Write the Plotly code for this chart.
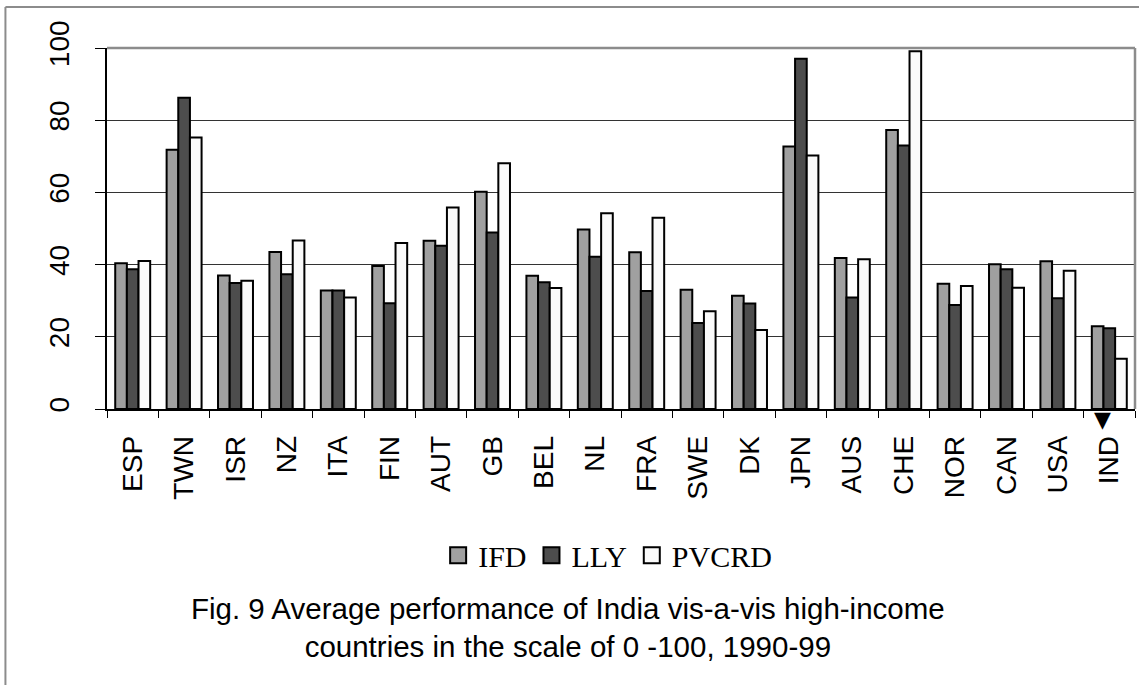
import plotly.graph_objects as go

countries = ["ESP", "TWN", "ISR", "NZ", "ITA", "FIN", "AUT", "GB", "BEL", "NL",
             "FRA", "SWE", "DK", "JPN", "AUS", "CHE", "NOR", "CAN", "USA", "IND"]
ifd = [40.4, 71.8, 37.0, 43.5, 32.8, 39.6, 46.6, 60.2, 36.9, 49.7,
       43.4, 33.0, 31.4, 72.7, 41.8, 77.3, 34.7, 40.1, 40.9, 22.9]
lly = [38.7, 86.2, 34.9, 37.3, 32.8, 29.3, 45.2, 48.9, 35.1, 42.2,
       32.7, 23.8, 29.2, 97.0, 30.9, 73.0, 28.8, 38.7, 30.7, 22.4]
pvcrd = [41.0, 75.2, 35.5, 46.7, 30.9, 46.0, 55.8, 68.1, 33.5, 54.2,
         53.0, 27.1, 21.9, 70.2, 41.5, 99.1, 34.1, 33.6, 38.3, 13.9]
series_names = ["IFD", "LLY", "PVCRD"]
series_colors = ["#a0a0a0", "#4d4d4d", "#fafafa"]
highlight = "IND"
title_lines = ["Fig. 9 Average performance of India vis-a-vis high-income",
               "countries in the scale of 0 -100, 1990-99"]

SANS = "Liberation Sans, Arial, sans-serif"
SERIF = "Liberation Serif, Times New Roman, serif"

fig = go.Figure()
for name, vals, col in zip(series_names, [ifd, lly, pvcrd], series_colors):
    fig.add_trace(go.Bar(x=countries, y=vals, name=name, showlegend=False,
                         marker=dict(color=col, line=dict(color="black", width=2))))
for name, col in zip(series_names, series_colors):
    # legend proxy (no visible point)
    fig.add_trace(go.Scatter(x=[countries[0]], y=[None], mode="markers", name=name,
                             marker=dict(symbol="square", size=16, color=col,
                                         line=dict(color="black", width=2))))

fig.update_layout(
    width=1139, height=685,
    margin=dict(l=107, r=4, t=48, b=276),
    paper_bgcolor="white", plot_bgcolor="white",
    barmode="group", bargap=0.32, bargroupgap=0,
    showlegend=True,
    legend=dict(orientation="h", x=0.487, xanchor="center", y=-0.405, yanchor="middle",
                font=dict(family=SERIF, size=30, color="black"),
                itemsizing="trace", bgcolor="rgba(0,0,0,0)"),
    xaxis=dict(type="category", categoryorder="array", categoryarray=countries,
               range=[-0.5, len(countries) - 0.5],
               tickangle=-90, tickson="boundaries", ticks="outside",
               ticklen=7, tickcolor="black", tickwidth=1,
               showline=True, linecolor="black", linewidth=1.5,
               tickfont=dict(family=SANS, size=28, color="black"),
               ticklabelstandoff=14, showgrid=False),
    yaxis=dict(range=[0, 100], tickvals=[0, 20, 40, 60, 80, 100], tickangle=-90,
               ticks="outside", ticklen=10, tickcolor="black", tickwidth=1,
               showline=True, linecolor="black", linewidth=1.5,
               showgrid=True, gridcolor="#333333", gridwidth=1,
               zeroline=False,
               tickfont=dict(family=SANS, size=28, color="black"),
               ticklabelstandoff=15),
    shapes=[
        dict(type="line", xref="paper", yref="paper", x0=0, x1=1, y0=1, y1=1,
             line=dict(color="#8c8c8c", width=2.5)),
        dict(type="line", xref="paper", yref="paper", x0=1, x1=1, y0=0, y1=1,
             line=dict(color="#8c8c8c", width=2.5)),
        dict(type="line", xref="paper", yref="paper", x0=-0.0988, x1=1.01, y0=1.1136, y1=1.1136,
             line=dict(color="#8c8c8c", width=2)),
        dict(type="line", xref="paper", yref="paper", x0=-0.0988, x1=-0.0988, y0=1.1136, y1=-0.8,
             line=dict(color="#8c8c8c", width=2)),
    ],
    annotations=[
        dict(text="<br>".join(title_lines), xref="paper", yref="paper",
             x=0.448, y=-0.604, xanchor="center", yanchor="middle", showarrow=False,
             font=dict(family=SANS, size=29.5, color="black"), align="center"),
        dict(text="▼", xref="x", yref="y", x=highlight, y=0, xanchor="center",
             yanchor="top", xshift=-7, yshift=4, showarrow=False,
             font=dict(family="DejaVu Sans", size=22, color="black")),
    ],
)

fig.write_html("out.html")
